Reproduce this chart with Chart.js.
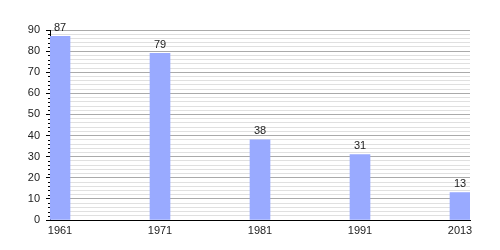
<!DOCTYPE html>
<html>
<head>
<meta charset="utf-8">
<script src="https://cdn.jsdelivr.net/npm/chart.js@4"></script>
<style>
html,body{margin:0;padding:0;background:#fff;}
#wrap{width:500px;height:250px;}
</style>
</head>
<body>
<div id="wrap"><canvas id="c" width="500" height="250"></canvas></div>
<script>
const years = ["1961", "1971", "1981", "1991", "2013"];
const values = [87, 79, 38, 31, 13];
const yTickLabels = [0, 10, 20, 30, 40, 50, 60, 70, 80, 90];

const FONT = "'Liberation Sans', Arial, sans-serif";

const valueLabels = {
  id: 'valueLabels',
  afterDatasetsDraw(chart) {
    const ctx = chart.ctx;
    const meta = chart.getDatasetMeta(0);
    ctx.save();
    ctx.font = "11px " + FONT;
    ctx.fillStyle = "#222";
    ctx.textAlign = "center";
    ctx.textBaseline = "bottom";
    meta.data.forEach((bar, i) => {
      ctx.fillText(String(values[i]), bar.x, bar.y - 3);
    });
    ctx.restore();
  }
};

const minorTicks = {
  id: 'minorTicks',
  afterDraw(chart) {
    const y = chart.scales.y;
    const ctx = chart.ctx;
    ctx.save();
    ctx.strokeStyle = "#000";
    ctx.lineWidth = 1;
    for (let v = 0; v <= 90; v += 2) {
      if (v % 10 === 0) continue;
      const py = Math.round(y.getPixelForValue(v)) + 0.5;
      ctx.beginPath();
      ctx.moveTo(y.right - 2, py);
      ctx.lineTo(y.right, py);
      ctx.stroke();
    }
    ctx.restore();
  }
};

new Chart(document.getElementById('c'), {
  type: 'bar',
  data: {
    datasets: [{
      data: values.map((v, i) => ({ x: i, y: v })),
      backgroundColor: '#99aaff',
      borderWidth: 0,
      barThickness: 20
    }]
  },
  options: {
    responsive: false,
    animation: false,
    layout: { padding: { top: 30, right: 30, left: 0, bottom: 0 } },
    plugins: { legend: { display: false }, tooltip: { enabled: false } },
    scales: {
      x: {
        type: 'linear',
        min: -0.1,
        max: 4.1,
        offset: false,
        afterBuildTicks(scale) { scale.ticks = years.map((_, i) => ({ value: i })); },
        afterFit(scale) { scale.height = 30; },
        grid: { display: false, drawTicks: false, offset: false },
        border: { display: true, color: '#000', width: 1 },
        ticks: {
          padding: 4,
          color: '#222',
          font: { family: FONT, size: 11 },
          maxRotation: 0,
          autoSkip: false,
          callback: (v) => years[v]
        }
      },
      y: {
        min: 0,
        max: 90,
        afterBuildTicks(scale) {
          const t = [];
          for (let v = 0; v <= 90; v += 2) t.push({ value: v });
          scale.ticks = t;
        },
        afterFit(scale) { scale.width = 50; },
        grid: {
          color: (c) => (c.tick && c.tick.value % 10 === 0) ? '#aaaaaa' : '#e0e0e0',
          tickColor: (c) => (c.tick && c.tick.value % 10 === 0) ? '#000' : 'rgba(0,0,0,0)',
          tickLength: 4,
          drawTicks: true
        },
        border: { display: true, color: '#000', width: 1 },
        ticks: {
          padding: 6,
          color: '#222',
          font: { family: FONT, size: 11 },
          autoSkip: false,
          callback: (v) => (yTickLabels.includes(v) ? String(v) : '')
        }
      }
    }
  },
  plugins: [valueLabels, minorTicks]
});
</script>
</body>
</html>
